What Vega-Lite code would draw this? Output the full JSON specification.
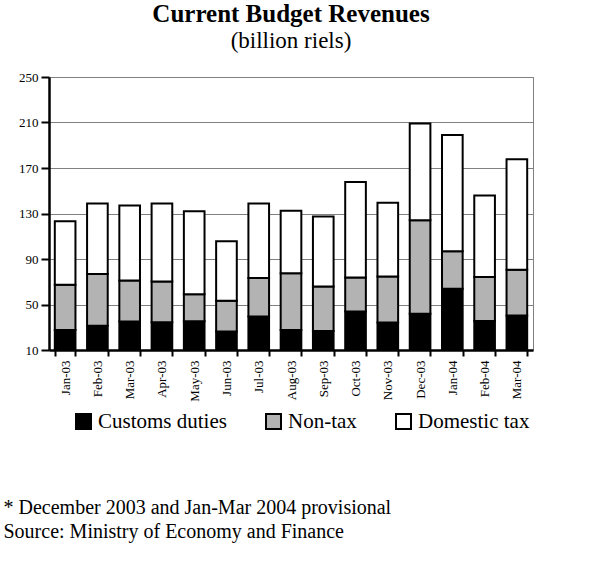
{
  "$schema": "https://vega.github.io/schema/vega-lite/v6.json",
  "autosize": "none",
  "width": 484,
  "height": 273,
  "padding": {"left": 49, "top": 77, "right": 60, "bottom": 228},
  "background": "white",
  "title": {
    "text": "Current Budget Revenues",
    "subtitle": "(billion riels)",
    "font": "Liberation Serif",
    "fontSize": 25,
    "fontWeight": "bold",
    "color": "black",
    "subtitleFont": "Liberation Serif",
    "subtitleFontSize": 23,
    "subtitleColor": "black",
    "subtitlePadding": 3,
    "anchor": "middle",
    "offset": 18
  },
  "data": {
    "values": [
      {"month": "Jan-03", "series": "Customs duties", "k": 1, "value": 27.6},
      {"month": "Jan-03", "series": "Non-tax", "k": 2, "value": 39.8},
      {"month": "Jan-03", "series": "Domestic tax", "k": 3, "value": 55.8},
      {"month": "Feb-03", "series": "Customs duties", "k": 1, "value": 31.4},
      {"month": "Feb-03", "series": "Non-tax", "k": 2, "value": 45.4},
      {"month": "Feb-03", "series": "Domestic tax", "k": 3, "value": 62.0},
      {"month": "Mar-03", "series": "Customs duties", "k": 1, "value": 35.0},
      {"month": "Mar-03", "series": "Non-tax", "k": 2, "value": 36.2},
      {"month": "Mar-03", "series": "Domestic tax", "k": 3, "value": 65.8},
      {"month": "Apr-03", "series": "Customs duties", "k": 1, "value": 34.4},
      {"month": "Apr-03", "series": "Non-tax", "k": 2, "value": 35.9},
      {"month": "Apr-03", "series": "Domestic tax", "k": 3, "value": 68.5},
      {"month": "May-03", "series": "Customs duties", "k": 1, "value": 35.3},
      {"month": "May-03", "series": "Non-tax", "k": 2, "value": 23.8},
      {"month": "May-03", "series": "Domestic tax", "k": 3, "value": 72.9},
      {"month": "Jun-03", "series": "Customs duties", "k": 1, "value": 26.2},
      {"month": "Jun-03", "series": "Non-tax", "k": 2, "value": 27.1},
      {"month": "Jun-03", "series": "Domestic tax", "k": 3, "value": 52.3},
      {"month": "Jul-03", "series": "Customs duties", "k": 1, "value": 39.4},
      {"month": "Jul-03", "series": "Non-tax", "k": 2, "value": 33.8},
      {"month": "Jul-03", "series": "Domestic tax", "k": 3, "value": 65.6},
      {"month": "Aug-03", "series": "Customs duties", "k": 1, "value": 27.6},
      {"month": "Aug-03", "series": "Non-tax", "k": 2, "value": 49.8},
      {"month": "Aug-03", "series": "Domestic tax", "k": 3, "value": 55.1},
      {"month": "Sep-03", "series": "Customs duties", "k": 1, "value": 26.8},
      {"month": "Sep-03", "series": "Non-tax", "k": 2, "value": 39.1},
      {"month": "Sep-03", "series": "Domestic tax", "k": 3, "value": 61.5},
      {"month": "Oct-03", "series": "Customs duties", "k": 1, "value": 43.8},
      {"month": "Oct-03", "series": "Non-tax", "k": 2, "value": 30.0},
      {"month": "Oct-03", "series": "Domestic tax", "k": 3, "value": 83.8},
      {"month": "Nov-03", "series": "Customs duties", "k": 1, "value": 34.1},
      {"month": "Nov-03", "series": "Non-tax", "k": 2, "value": 40.6},
      {"month": "Nov-03", "series": "Domestic tax", "k": 3, "value": 64.7},
      {"month": "Dec-03", "series": "Customs duties", "k": 1, "value": 41.8},
      {"month": "Dec-03", "series": "Non-tax", "k": 2, "value": 82.3},
      {"month": "Dec-03", "series": "Domestic tax", "k": 3, "value": 85.0},
      {"month": "Jan-04", "series": "Customs duties", "k": 1, "value": 63.8},
      {"month": "Jan-04", "series": "Non-tax", "k": 2, "value": 33.0},
      {"month": "Jan-04", "series": "Domestic tax", "k": 3, "value": 102.3},
      {"month": "Feb-04", "series": "Customs duties", "k": 1, "value": 35.6},
      {"month": "Feb-04", "series": "Non-tax", "k": 2, "value": 38.5},
      {"month": "Feb-04", "series": "Domestic tax", "k": 3, "value": 71.8},
      {"month": "Mar-04", "series": "Customs duties", "k": 1, "value": 40.3},
      {"month": "Mar-04", "series": "Non-tax", "k": 2, "value": 40.3},
      {"month": "Mar-04", "series": "Domestic tax", "k": 3, "value": 97.1}
    ]
  },
  "mark": {"type": "bar", "clip": true, "stroke": "black", "strokeWidth": 2},
  "encoding": {
    "x": {
      "field": "month",
      "type": "nominal",
      "sort": null,
      "scale": {"paddingInner": 0.36, "paddingOuter": 0.18},
      "axis": {
        "title": ["* December 2003 and Jan-Mar 2004 provisional", "Source: Ministry of Economy and Finance"],
        "titleFont": "Liberation Serif",
        "titleFontSize": 20,
        "titleFontWeight": "normal",
        "titleColor": "black",
        "titleAnchor": "start",
        "titleAlign": "left",
        "titleBaseline": "alphabetic",
        "titleLineHeight": 24,
        "titleX": -46,
        "titleY": 163,
        "labelAngle": -90,
        "labelAlign": "right",
        "labelBaseline": "middle",
        "labelFont": "Liberation Serif",
        "labelFontSize": 13,
        "labelColor": "black",
        "labelPadding": 4,
        "tickBand": "extent",
        "tickColor": "black",
        "tickWidth": 2,
        "tickSize": 6,
        "domainColor": "black",
        "domainWidth": 2.5,
        "grid": false
      }
    },
    "y": {
      "field": "value",
      "type": "quantitative",
      "stack": "zero",
      "scale": {"domain": [10, 250], "nice": false, "zero": false},
      "axis": {
        "title": null,
        "values": [10, 50, 90, 130, 170, 210, 250],
        "labelFont": "Liberation Serif",
        "labelFontSize": 13,
        "labelColor": "black",
        "labelPadding": 3,
        "tickColor": "black",
        "tickWidth": 2,
        "tickSize": 8,
        "domainColor": "black",
        "domainWidth": 2.5,
        "grid": true,
        "gridColor": "#808080",
        "gridWidth": 1
      }
    },
    "color": {
      "field": "series",
      "type": "nominal",
      "sort": ["Customs duties", "Non-tax", "Domestic tax"],
      "scale": {
        "domain": ["Customs duties", "Non-tax", "Domestic tax"],
        "range": ["#000000", "#b3b3b3", "#ffffff"]
      },
      "legend": {
        "title": null,
        "orient": "none",
        "direction": "horizontal",
        "legendX": 24,
        "legendY": 334,
        "padding": 0,
        "symbolType": "square",
        "symbolSize": 225,
        "symbolStrokeColor": "black",
        "symbolStrokeWidth": 2,
        "symbolOpacity": 1,
        "labelFont": "Liberation Serif",
        "labelFontSize": 21,
        "labelColor": "black",
        "labelOffset": 4,
        "columnPadding": 35,
        "labelLimit": 300
      }
    },
    "order": {"field": "k", "type": "quantitative"}
  },
  "config": {
    "view": {"stroke": "#808080", "strokeWidth": 1}
  }
}
